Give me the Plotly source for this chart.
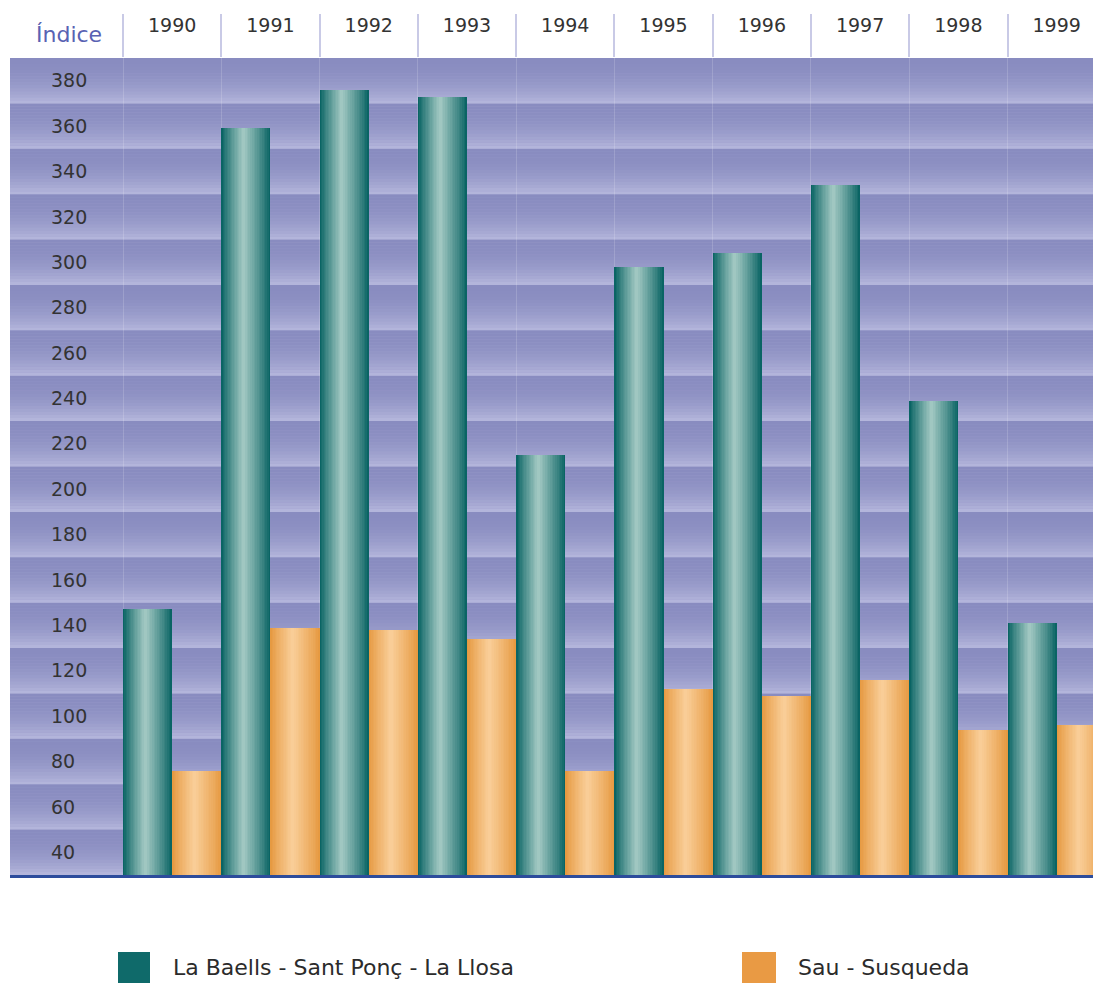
import plotly.graph_objects as go

# --- data -------------------------------------------------------------
years = ["1990", "1991", "1992", "1993", "1994", "1995", "1996", "1997", "1998", "1999"]
baells = [147, 359, 376, 373, 215, 298, 304, 334, 239, 141]   # La Baells - Sant Ponç - La Llosa
sau = [76, 139, 138, 134, 76, 112, 109, 116, 94, 96]           # Sau - Susqueda
y_ticks = list(range(40, 381, 20))
series_names = ["La Baells - Sant Ponç - La Llosa", "Sau - Susqueda"]

# --- geometry / style ---------------------------------------------------
W, H = 1093, 983
M_L, M_R, M_T, M_B = 10, 0, 58, 108
X_RANGE = [-1.65, 9.37]
Y_RANGE = [30, 390]
FONT = "DejaVu Sans"

x_idx = list(range(len(years)))


def hex2rgb(h):
    h = h.lstrip("#")
    return tuple(int(h[i:i + 2], 16) for i in (0, 2, 4))


def mix(c0, c1, s):
    a, b = hex2rgb(c0), hex2rgb(c1)
    return "rgb({},{},{})".format(*[round(a[i] + (b[i] - a[i]) * s) for i in range(3)])


def px_x(px):
    return (px - M_L) / (W - M_L - M_R)


def px_y(py):
    return (H - M_B - py) / (H - M_T - M_B)


fig = go.Figure()

# cylinder shading: nested bars, each narrower and lighter, around a highlight line
N_LAYERS = 16
HIGHLIGHT = 0.45
bar_specs = [
    (baells, -0.5, "#0a6464", "#a9cdc7"),
    (sau, 0.0, "#e69a42", "#fad09c"),
]
for values, offset, dark, light in bar_specs:
    width = 0.5
    for k in range(N_LAYERS):
        f = 1 - k / N_LAYERS           # remaining fraction of full width
        left = offset + width * HIGHLIGHT * (1 - f)
        right = offset + width * (HIGHLIGHT + (1 - HIGHLIGHT) * f)
        s = (1 - f) ** 0.9
        fig.add_trace(go.Bar(
            x=x_idx, y=values,
            offset=left, width=right - left,
            marker=dict(color=mix(dark, light, s), line=dict(width=0)),
            showlegend=False, hoverinfo="skip",
        ))

# striped background: one band per tick, shading darker to lighter downward
BAND_STEPS = 15
shapes = []
for v in y_ticks:
    top, bot = v + 10, v - 10
    for j in range(BAND_STEPS):
        t = (j + 0.5) / BAND_STEPS
        s = t ** 2.2
        y0 = top - (top - bot) * j / BAND_STEPS
        y1 = top - (top - bot) * (j + 1) / BAND_STEPS
        shapes.append(dict(
            type="rect", xref="paper", yref="y", x0=0, x1=1, y0=y1, y1=y0,
            fillcolor=mix("#898cc0", "#b6b8dd", s), line=dict(width=0), layer="below",
        ))

# legend swatches
legend_items = [
    (118, 150, 171, "#0f6a6a", series_names[0]),
    (742, 776, 796, "#e99a44", series_names[1]),
]
annotations = []
for x0, x1, xt, col, name in legend_items:
    shapes.append(dict(
        type="rect", xref="paper", yref="paper",
        x0=px_x(x0), x1=px_x(x1), y0=px_y(984), y1=px_y(952),
        fillcolor=col, line=dict(width=0),
    ))
    annotations.append(dict(
        xref="paper", yref="paper", x=px_x(xt), y=px_y(967),
        xanchor="left", yanchor="middle", showarrow=False,
        text=name, font=dict(family=FONT, size=22, color="#2b2b2b"),
    ))

annotations.append(dict(
    xref="paper", yref="paper", x=px_x(69), y=px_y(35),
    xanchor="center", yanchor="middle", showarrow=False,
    text="Índice", font=dict(family=FONT, size=22, color="#5962b3"),
))

fig.update_layout(
    width=W, height=H,
    margin=dict(l=M_L, r=M_R, t=M_T, b=M_B),
    paper_bgcolor="white", plot_bgcolor="#9a9ccb",
    barmode="overlay", bargap=0,
    showlegend=False,
    shapes=shapes, annotations=annotations,
    xaxis=dict(
        range=X_RANGE, showgrid=False, zeroline=False,
        showticklabels=False, ticks="",
        showline=True, linecolor="#2c4c9c", linewidth=3,
    ),
    # separators between years: ticks above the plot and faint lines inside
    xaxis2=dict(
        overlaying="x", side="top", matches="x", range=X_RANGE,
        tickmode="array", tickvals=[i - 0.5 for i in x_idx],
        ticks="outside", ticklen=43, tickwidth=1.5, tickcolor="#c9cae6",
        showticklabels=False,
        showgrid=True, gridcolor="rgba(255,255,255,0.16)", gridwidth=1,
        zeroline=False, showline=False,
    ),
    # year labels
    xaxis3=dict(
        overlaying="x", side="top", matches="x", range=X_RANGE,
        tickmode="array", tickvals=x_idx, ticktext=years,
        ticks="", ticklabelstandoff=21, showgrid=False, zeroline=False, showline=False,
        tickfont=dict(family=FONT, size=19, color="#333333"),
    ),
    yaxis=dict(
        range=Y_RANGE, tickmode="array", tickvals=y_ticks,
        ticklabelposition="inside", ticklabelstandoff=38,
        showgrid=False, zeroline=False, showline=False, ticks="",
        tickfont=dict(family=FONT, size=19, color="#333333"),
    ),
)

# dummy traces that bring the overlay axes to life
for ax in ("x2", "x3"):
    fig.add_trace(go.Scatter(x=[0], y=[None], xaxis=ax, yaxis="y",
                             showlegend=False, hoverinfo="skip", mode="markers"))

fig.write_html("out.html")
